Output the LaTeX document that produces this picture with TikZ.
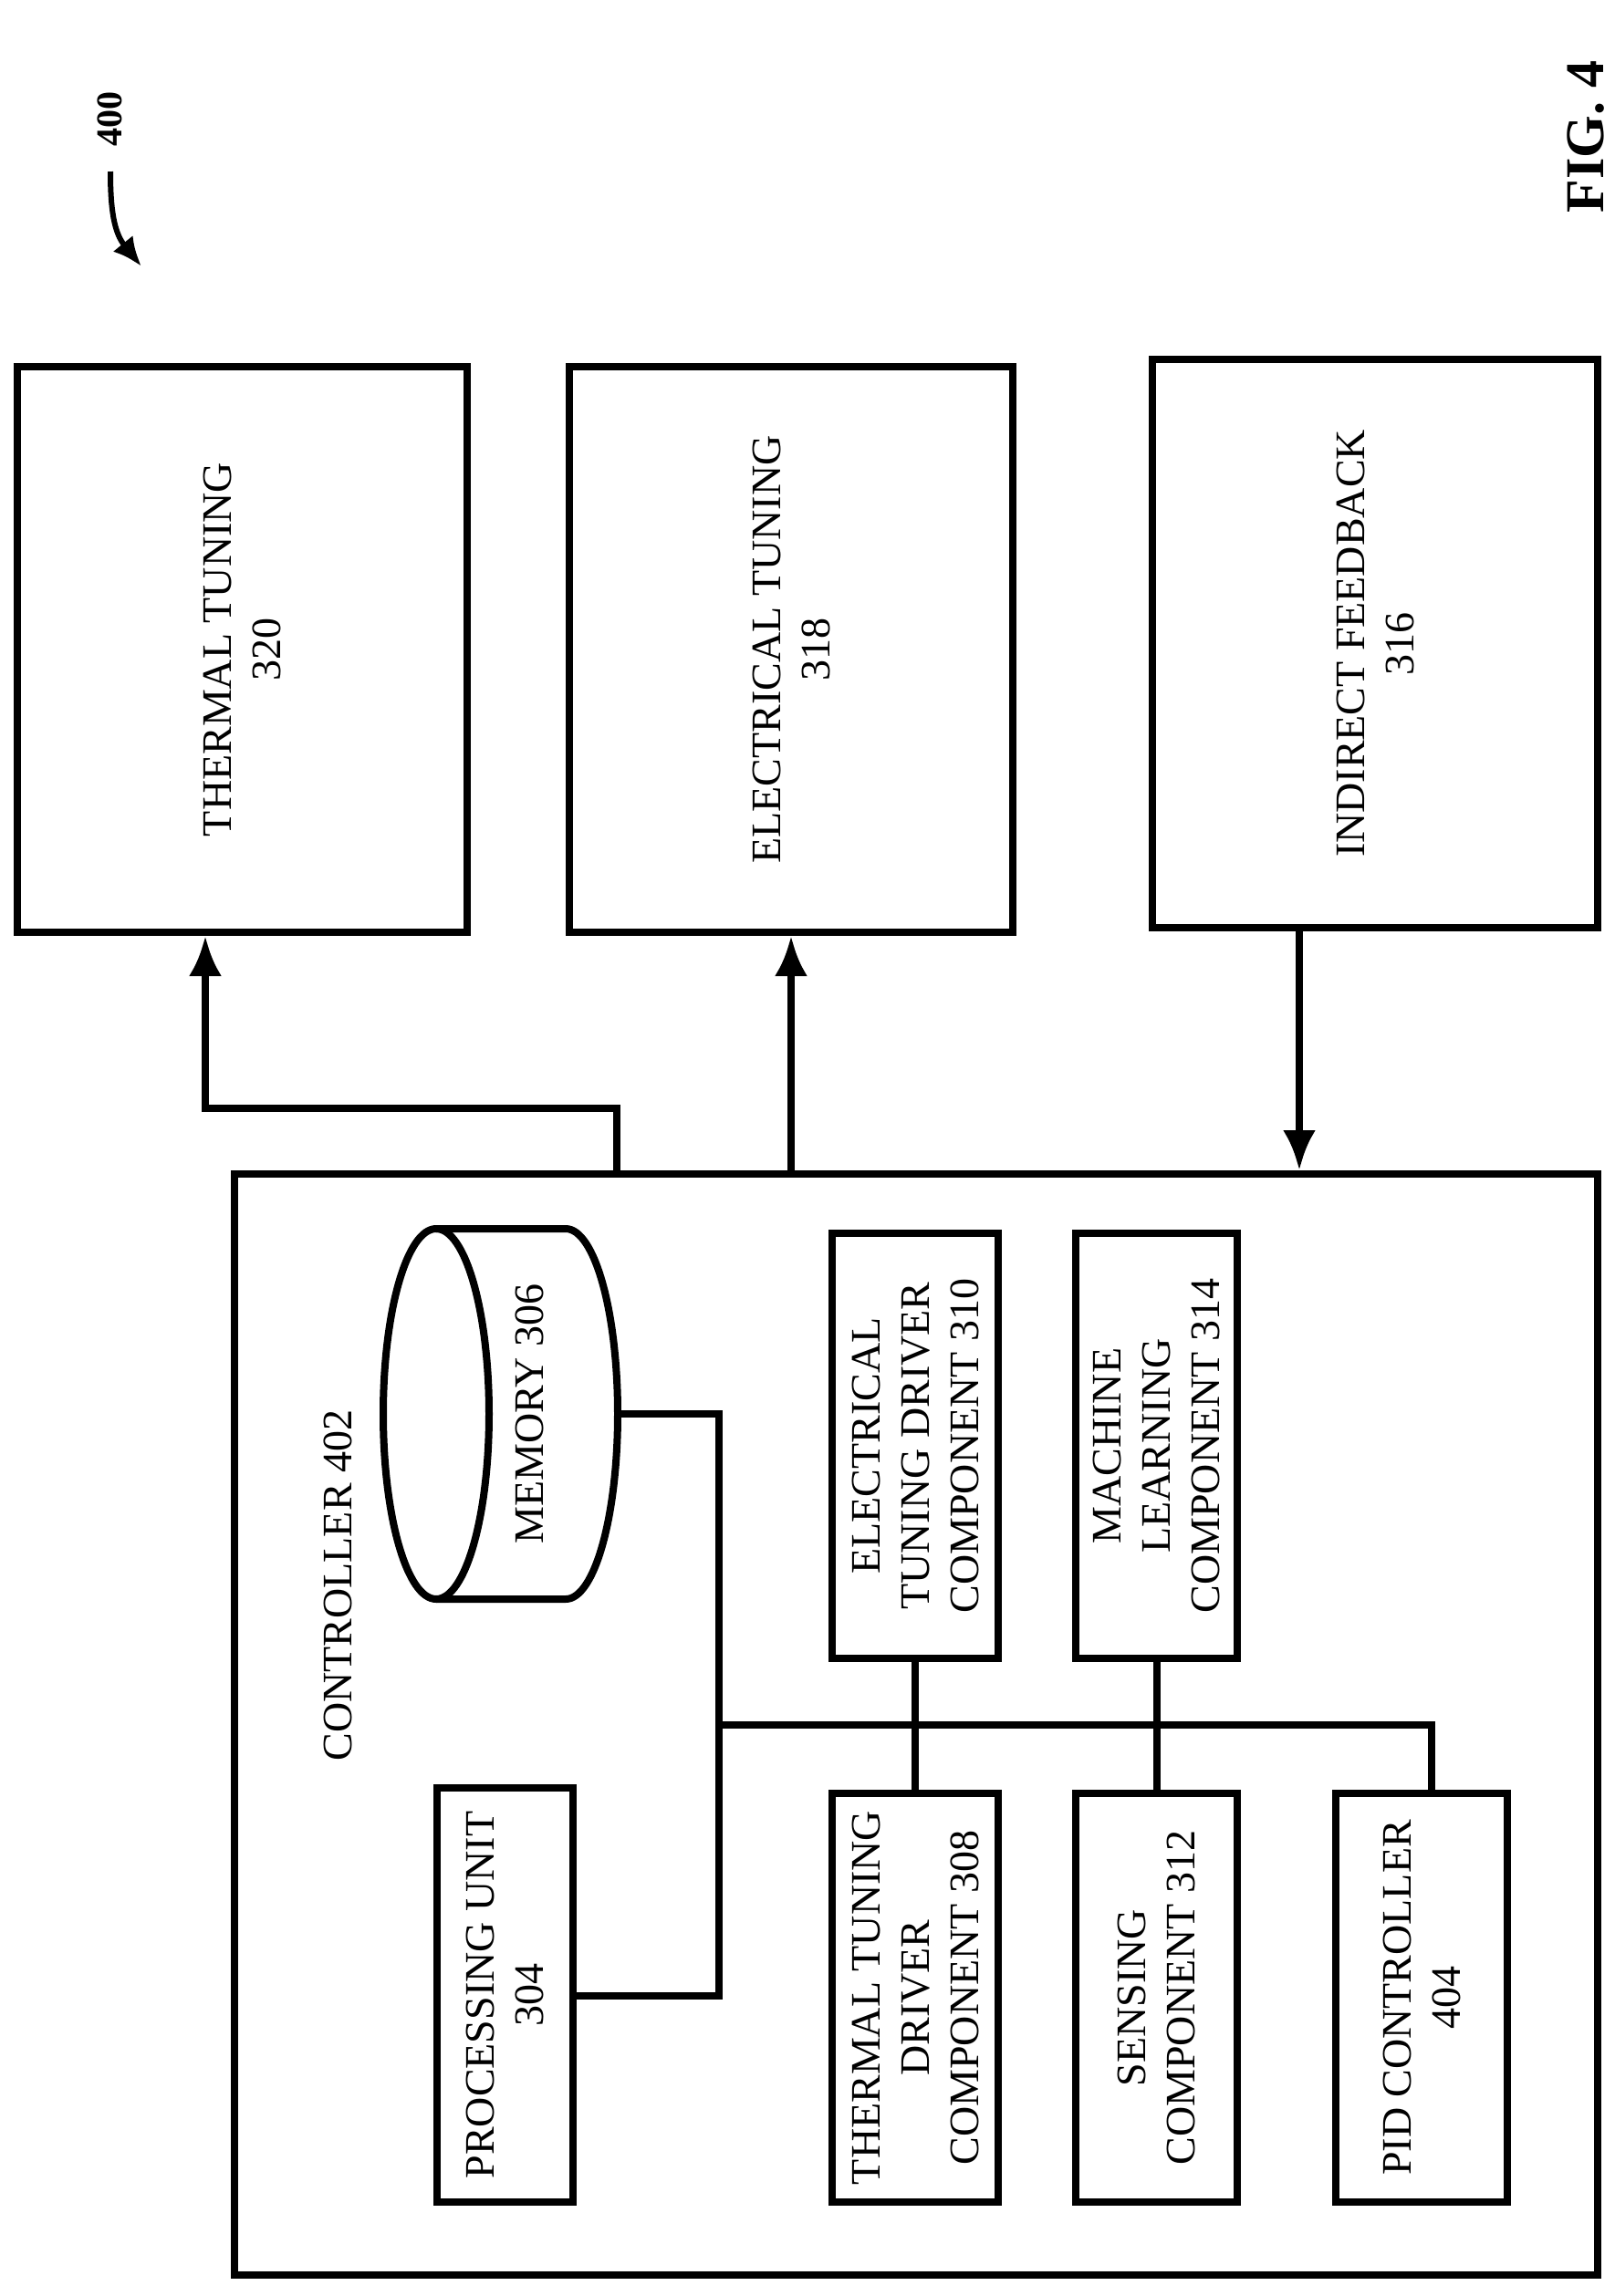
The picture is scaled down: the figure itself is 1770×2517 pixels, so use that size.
\documentclass[tikz,border=0pt]{standalone}
\usepackage{fontspec}
\setmainfont{Liberation Serif}
\usetikzlibrary{arrows.meta}
\newcommand{\bx}[6]{%
  \node[draw,line width=4pt,minimum width={(#4-#2)*0.5pt},minimum height={(#5-#3)*0.5pt},inner sep=0pt] (#1) at ({(#2+#4)/2},{(#3+#5)/2}) {};
  \node[txt] at (#1.center) {#6};}
\begin{document}
\begin{tikzpicture}[x=0.5pt,y=-0.5pt,
  txt/.style={rotate=90,align=center,font=\fontsize{23}{27}\selectfont},
  ln/.style={line width=4pt},
  arr/.style={line width=4pt,-{Latex[length=22pt,width=18pt]}}]
\useasboundingbox (0,0) rectangle (1770,2517);
\bx{tt}{19}{402}{512}{1022}{THERMAL TUNING\\320}
\bx{et}{624}{402}{1110}{1022}{ELECTRICAL TUNING\\318}
\bx{ifb}{1263}{394}{1751}{1017}{INDIRECT FEEDBACK\\316}
\bx{ctl}{257}{1287}{1751}{2494}{}
\node[txt] (ctllab) at (370,1738) {CONTROLLER 402};
\bx{pu}{479}{1960}{628}{2414}{PROCESSING UNIT\\304}
\bx{ttd}{912}{1966}{1094}{2414}{THERMAL TUNING\\DRIVER\\COMPONENT 308}
\bx{sc}{1179}{1966}{1356}{2414}{SENSING\\COMPONENT 312}
\bx{pid}{1464}{1966}{1652}{2414}{PID CONTROLLER\\404}
\bx{etd}{912}{1352}{1094}{1818}{ELECTRICAL\\TUNING DRIVER\\COMPONENT 310}
\bx{ml}{1179}{1352}{1356}{1818}{MACHINE\\LEARNING\\COMPONENT 314}
% memory cylinder
\draw[ln,fill=white] (478,1347) -- (620,1347) arc[start angle=-90,end angle=90,x radius=57,y radius=203] -- (478,1753);
\draw[ln] (478,1550) ellipse [x radius=58, y radius=203];
\coordinate (mem) at (677,1550);
\node[txt] at (580,1550) {MEMORY 306};
% bus
\coordinate (b1) at (788,1550);
\coordinate (b2) at (788,1891);
\coordinate (b3) at (1569,1891);
\draw[ln] (mem) -- (b1) -- (788,2188) -- (pu.east |- 0,2188);
\draw[ln] (b2) -- (b3) -- (pid.north -| b3);
\draw[ln] (etd.south) -- (ttd.north);
\draw[ln] (ml.south) -- (sc.north);
% arrows
\draw[arr] (ctl.north -| 676,0) -- (676,1215) -- (225,1215) -- (tt.south -| 225,0);
\draw[arr] (ctl.north -| et.south) -- (et.south);
\draw[arr] (ifb.south -| 1424,0) -- (ctl.north -| 1424,0);
% labels
\node[rotate=90,font=\bfseries\fontsize{20}{24}\selectfont] (n400) at (120,130) {400};
\coordinate (a400) at (155,292);
\draw[line width=3pt,-{Latex[length=16pt,width=14pt]}] (121,188) .. controls (121,230) and (125,255) .. (a400);
\node[rotate=90,font=\bfseries\fontsize{30}{36}\selectfont] (fig) at (1738,150) {FIG. 4};
\end{tikzpicture}
\end{document}
